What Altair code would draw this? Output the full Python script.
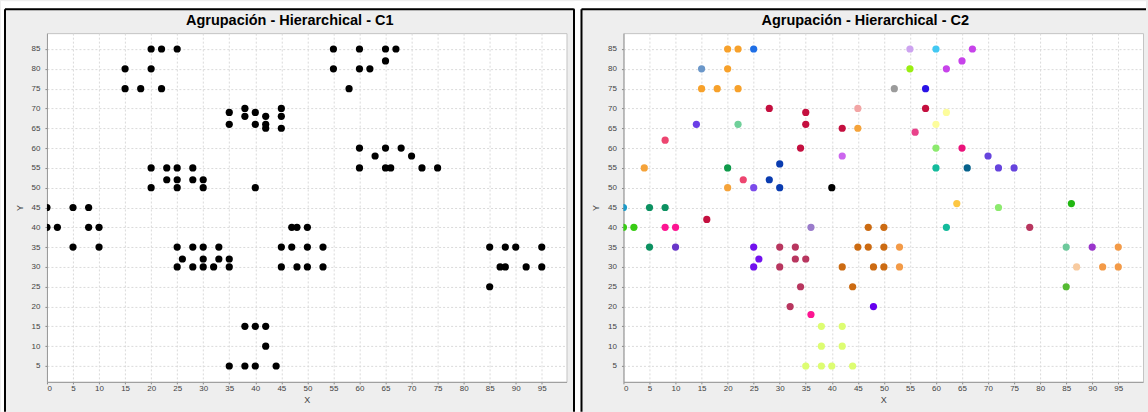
import altair as alt
import pandas as pd

# ---------------- data: C1 (single colour) ----------------
x_c1 = [20, 22, 25, 15, 20, 15, 18, 22,
        55, 60, 65, 67, 65, 55, 60, 62, 58,
        35, 35, 38, 38, 40, 40, 42, 42, 42, 45, 45, 45,
        20, 20, 23, 23, 25, 25, 25, 28, 28, 30, 30, 40,
        60, 63, 65, 68, 70, 60, 65, 66, 72, 75,
        0, 5, 8, 0, 2, 8, 10, 5, 10,
        25, 26, 25, 28, 28, 30, 30, 30, 32, 33, 33, 35, 35,
        38, 40, 42, 42, 35, 38, 40, 44,
        45, 47, 45, 47, 48, 50, 50, 53, 48, 50, 53,
        85, 88, 90, 95, 87, 88, 92, 95, 85]
y_c1 = [85, 85, 85, 80, 80, 75, 75, 75,
        85, 85, 85, 85, 82, 80, 80, 80, 75,
        69, 66, 70, 68, 69, 66, 68, 66, 65, 70, 68, 65,
        55, 50, 55, 52, 55, 52, 50, 55, 52, 52, 50, 50,
        60, 58, 60, 60, 58, 55, 55, 55, 55, 55,
        45, 45, 45, 40, 40, 40, 40, 35, 35,
        35, 32, 30, 35, 30, 35, 32, 30, 30, 35, 32, 32, 30,
        15, 15, 15, 10, 5, 5, 5, 5,
        35, 35, 30, 40, 40, 40, 35, 35, 30, 30, 30,
        35, 35, 35, 35, 30, 30, 30, 30, 25]

# ---------------- data: C2 (one colour per cluster) ----------------
x_c2 = [20, 22, 20, 15, 18, 22,
        25, 15,
        28, 35, 35, 34, 42, 58, 16,
        45, 45, 4, 20,
        14, 22, 8, 23, 42, 20,
        30, 28, 30, 25, 40, 0,
        5, 8, 5,
        55, 60, 67, 65, 62, 55, 52, 58,
        62, 60, 56, 60, 72, 65,
        70, 72, 75, 60, 62, 66, 64, 86,
        0, 2, 8, 10, 36, 36,
        47, 50, 45, 47, 50, 48, 50, 42, 44,
        10, 25, 26, 25,
        30, 33, 33, 35, 30, 34, 32, 78,
        48,
        38, 42, 38, 42, 35, 38, 40, 44,
        53, 53, 92, 95, 95,
        85, 90, 87, 85]
y_c2 = [85, 85, 80, 75, 75, 75,
        85, 80,
        70, 69, 66, 60, 65, 70, 42,
        70, 65, 55, 50,
        66, 66, 62, 52, 58, 55,
        56, 52, 50, 50, 50, 45,
        45, 45, 35,
        85, 85, 85, 82, 80, 80, 75, 75,
        69, 66, 64, 60, 45, 60,
        58, 55, 55, 55, 40, 55, 46, 46,
        40, 40, 40, 40, 18, 40,
        40, 40, 35, 35, 35, 30, 30, 30, 25,
        35, 35, 32, 30,
        35, 35, 32, 32, 30, 25, 20, 40,
        20,
        15, 15, 10, 10, 5, 5, 5, 5,
        35, 30, 30, 30, 35,
        35, 35, 30, 25]
cluster_c2 = [0, 0, 0, 0, 0, 0,
              1, 2,
              3, 3, 3, 3, 3, 3, 3,
              4, 5, 5, 5,
              6, 7, 8, 8, 9, 10,
              11, 11, 11, 12, 13, 14,
              15, 15, 15,
              16, 17, 18, 18, 18, 19, 20, 21,
              22, 22, 23, 24, 24, 25,
              26, 26, 26, 27, 27, 28, 29, 30,
              31, 31, 32, 32, 32, 33,
              34, 34, 34, 34, 34, 34, 34, 34, 34,
              35, 36, 36, 36,
              37, 37, 37, 37, 37, 37, 37, 37,
              38,
              39, 39, 39, 39, 39, 39, 39, 39,
              40, 40, 40, 40, 40,
              41, 42, 43, 44]
palette = ["#f7a12b", "#1f6fe6", "#6b97c9", "#c40f3f", "#f2a5a5", "#f5a33a",
           "#6a3ee6", "#70d09a", "#ed4570", "#cc66ee", "#0f9a4b", "#0a3cb0",
           "#7b4bea", "#000000", "#1b9bc9", "#0c9161", "#cda3f0", "#42c8f2",
           "#c743ea", "#9aee12", "#9b9b9b", "#2a12e6", "#fdfd9c", "#e8428a",
           "#8cea6e", "#ea127a", "#6644dd", "#14bb9c", "#06628c", "#fdc743",
           "#21b712", "#38cc14", "#fd1592", "#9a7bcb", "#cc6b12", "#6936c9",
           "#7211ee", "#b8365f", "#6600ee", "#ddfd72", "#f39a47", "#6dc99c",
           "#9a35cc", "#f8cba0", "#55bb33"]

x_ticks = list(range(0, 100, 5))
y_ticks = list(range(5, 90, 5))
titles = ["Agrupación - Hierarchical - C1", "Agrupación - Hierarchical - C2"]

W, H = 520, 349
X_DOM = [0, 99.75]
Y_DOM = [1, 89]

df1 = pd.DataFrame({"x": x_c1, "y": y_c1})
df2 = pd.DataFrame({"x": x_c2, "y": y_c2,
                    "cluster": [f"g{c}" for c in cluster_c2]})
one = pd.DataFrame({"d": [0]})


def enc_x():
    return alt.X("x:Q", scale=alt.Scale(domain=X_DOM, nice=False, zero=False),
                 axis=alt.Axis(values=x_ticks, title="X", labelPadding=1,
                               titlePadding=3))


def enc_y():
    return alt.Y("y:Q", scale=alt.Scale(domain=Y_DOM, nice=False, zero=False),
                 axis=alt.Axis(values=y_ticks, title="Y", labelPadding=5,
                               titlePadding=7))


def decor(left_panel, title_text, tx):
    b = alt.Chart(one)
    layers = []
    if left_panel:
        whites = [(-46, W + 16, -32, -25), (-46, -43, -32, H + 30),
                  (W + 8, W + 15, -32, H + 30)]
        rules = [(-42, None, -24, H + 30), (-42, W + 8, -24, None),
                 (W + 7.5, None, -24, H + 30)]
    else:
        whites = [(-50, W + 3, -32, -25)]
        rules = [(-42, None, -24, H + 30), (-42, W + 3, -24, None)]
    for x1, x2, y1, y2 in whites:
        layers.append(b.mark_rect(color="white").encode(
            x=alt.value(x1), x2=alt.value(x2), y=alt.value(y1), y2=alt.value(y2)))
    for x1, x2, y1, y2 in rules:
        if x2 is None:
            layers.append(b.mark_rule(color="black", strokeWidth=2).encode(
                x=alt.value(x1), y=alt.value(y1), y2=alt.value(y2)))
        else:
            layers.append(b.mark_rule(color="black", strokeWidth=2).encode(
                x=alt.value(x1), x2=alt.value(x2), y=alt.value(y1)))
    layers.append(b.mark_text(font="Liberation Sans", fontSize=14.5,
                              fontWeight="bold", color="black", align="center",
                              baseline="alphabetic").encode(
        x=alt.value(tx), y=alt.value(-8), text=alt.value(title_text)))
    return layers


pts1 = alt.Chart(df1).mark_circle(size=52, opacity=1, clip=True).encode(
    x=enc_x(), y=enc_y(), color=alt.value("black"))
pts2 = alt.Chart(df2).mark_circle(size=52, opacity=1, clip=True).encode(
    x=enc_x(), y=enc_y(),
    color=alt.Color("cluster:N",
                    scale=alt.Scale(domain=[f"g{i}" for i in range(len(palette))],
                                    range=palette),
                    legend=None))

left = alt.layer(*decor(True, titles[0], W / 2 - 17), pts1).properties(
    width=W, height=H)
right = alt.layer(*decor(False, titles[1], W / 2 - 18), pts2).properties(
    width=W, height=H)

chart = alt.hconcat(left, right, spacing=57, bounds="flush").properties(
    padding=0, background="#eeeeee"
).configure_view(
    fill="white", stroke="#c4c4c4", strokeWidth=1
).configure_axis(
    labelFont="Liberation Sans", labelFontSize=8, labelColor="#444444",
    titleFont="Liberation Sans", titleFontSize=9, titleFontWeight="normal",
    titleColor="#444444", tickSize=2, tickColor="#888888",
    domainColor="#999999", grid=True, gridColor="#dadada", gridDash=[2, 2],
    gridWidth=1
)

chart.save("out.html", embed_options={"renderer": "svg", "actions": False})
